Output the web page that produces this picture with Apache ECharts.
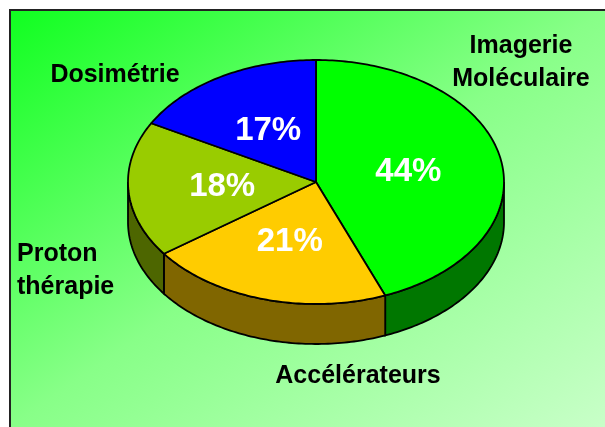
<!DOCTYPE html>
<html>
<head>
<meta charset="utf-8">
<script src="https://cdn.jsdelivr.net/npm/echarts@6/dist/echarts.min.js"></script>
<style>
  html, body { margin: 0; padding: 0; background: #fff; }
  #chart { width: 605px; height: 427px; }
</style>
</head>
<body>
<div id="chart"></div>
<script>
// data
const categories = ['Imagerie\nMoléculaire', 'Accélérateurs', 'Proton\nthérapie', 'Dosimétrie'];
const shares = [44, 21, 18, 17];

// look
const topColors = ['#00ff00', '#ffcc00', '#99cc00', '#0000ff'];
const sideColors = ['#007700', '#806600', '#4d6600', '#000080'];
const pie = { cx: 316, cy: 182, rx: 188, ry: 122, depth: 40 };
// where the category names sit: [x, y, align]
const nameSpots = [[521, 63, 'center'], [358, 376, 'center'], [17, 271, 'left'], [115, 75, 'center']];
const FONT = '"Liberation Sans", Arial, sans-serif';

const total = shares.reduce((s, v) => s + v, 0);
const startOf = i => shares.slice(0, i).reduce((s, v) => s + v, 0) / total * Math.PI * 2;

// t measured clockwise from 12 o'clock
const pt = (t, k, dy) => [
  pie.cx + pie.rx * k * Math.sin(t),
  pie.cy - pie.ry * k * Math.cos(t) + (dy || 0)
];
const arc = (t0, t1, dy) => {
  const n = Math.max(2, Math.ceil(Math.abs(t1 - t0) / (Math.PI / 180)));
  const out = [];
  for (let j = 0; j <= n; j++) out.push(pt(t0 + (t1 - t0) * j / n, 1, dy));
  return out;
};

const chart = echarts.init(document.getElementById('chart'));

const sideSeries = {
  type: 'custom',
  coordinateSystem: 'none',
  silent: true,
  z: 1,
  data: shares.map((v, i) => [v, i]),
  renderItem: (params, api) => {
    const i = params.dataIndex;
    const t0 = startOf(i);
    const t1 = t0 + api.value(0) / total * Math.PI * 2;
    const ts = Math.max(t0, Math.PI / 2);
    const te = Math.min(t1, Math.PI * 1.5);
    if (ts >= te) return { type: 'group', children: [] };
    const pts = arc(ts, te, 0).concat(arc(te, ts, pie.depth));
    return {
      type: 'polygon',
      shape: { points: pts },
      style: { fill: sideColors[i], stroke: '#000', lineWidth: 1.8 }
    };
  }
};

const topSeries = {
  type: 'custom',
  coordinateSystem: 'none',
  silent: true,
  z: 2,
  data: shares.map((v, i) => [v, i]),
  renderItem: (params, api) => {
    const i = params.dataIndex;
    const v = api.value(0);
    const t0 = startOf(i);
    const t1 = t0 + v / total * Math.PI * 2;
    const mid = (t0 + t1) / 2;
    const lp = pt(mid, 0.5);
    const spot = nameSpots[i];
    return {
      type: 'group',
      children: [
        {
          type: 'polygon',
          shape: { points: [[pie.cx, pie.cy]].concat(arc(t0, t1, 0)) },
          style: { fill: topColors[i], stroke: '#000', lineWidth: 1.8, lineJoin: 'round' }
        },
        {
          type: 'text',
          z2: 10,
          style: {
            text: v + '%',
            x: lp[0], y: lp[1] + 1,
            align: 'center', verticalAlign: 'middle',
            fill: '#fff',
            font: 'bold 33px ' + FONT
          }
        },
        {
          type: 'text',
          z2: 10,
          style: {
            text: categories[i],
            x: spot[0], y: spot[1],
            align: spot[2], verticalAlign: 'middle',
            lineHeight: 33,
            fill: '#000',
            font: 'bold 25px ' + FONT
          }
        }
      ]
    };
  }
};

chart.setOption({
  animation: false,
  backgroundColor: '#fff',
  graphic: [{
    type: 'rect',
    z: -10,
    silent: true,
    shape: { x: 10, y: 10, width: 620, height: 440 },
    style: {
      stroke: '#222',
      lineWidth: 2,
      fill: new echarts.graphic.LinearGradient(10, 10, 10 + 0.94 * 417, 10 + 0.94 * 595, [
        { offset: 0, color: '#10ff20' },
        { offset: 0.5, color: '#88ff88' },
        { offset: 1, color: '#c8ffc8' }
      ], true)
    }
  }],
  series: [sideSeries, topSeries]
});
</script>
</body>
</html>
